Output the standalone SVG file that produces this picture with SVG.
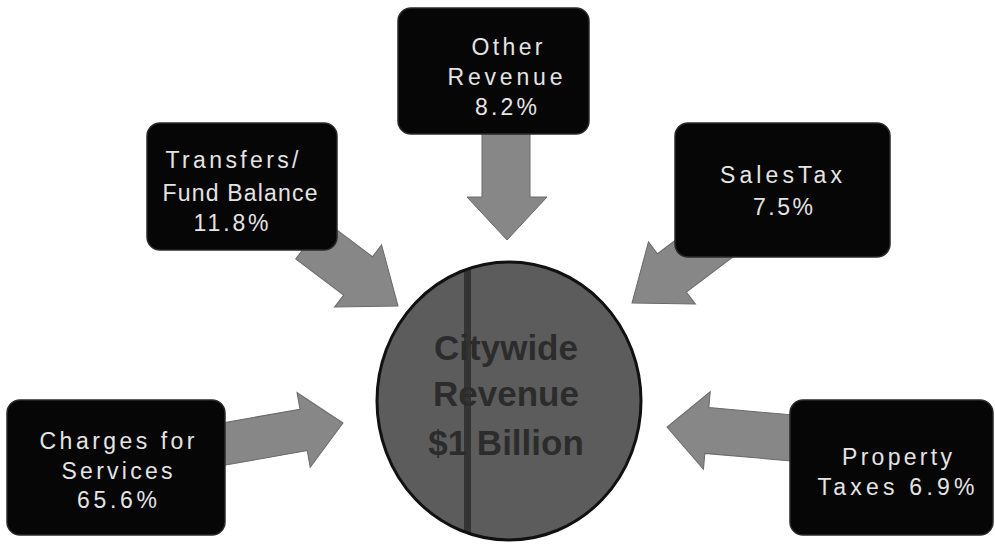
<svg xmlns="http://www.w3.org/2000/svg" width="995" height="544" viewBox="0 0 995 544">
  <style>
    .box { fill: #060606; stroke: #2a2a2a; stroke-width: 1.5; }
    .lbl { font-family: "Liberation Sans", Arial, sans-serif; font-size: 23px; fill: #e4e4e4; text-anchor: middle; }
    .ctr { font-family: "Liberation Sans", Arial, sans-serif; font-size: 35px; font-weight: bold; fill: #2c2c2c; text-anchor: middle; }
    .arrow { fill: #878787; stroke: #6a6a6a; stroke-width: 1; }
  </style>
  <defs>
    <clipPath id="circleClip">
      <ellipse cx="509" cy="401" rx="132" ry="139"/>
    </clipPath>
  </defs>
  <rect width="995" height="544" fill="#ffffff"/>

  <g id="connectors">
    <!-- Other Revenue (down) -->
    <polygon class="arrow" points="482,128 530,128 530,197 547,197 507,240 467,197 482,197"/>
    <!-- Transfers (down-right) -->
    <g transform="translate(398,306) rotate(37)">
      <polygon class="arrow" points="0,0 -50,-39 -50,-24 -110,-24 -110,24 -50,24 -50,39"/>
    </g>
    <!-- Sales Tax (down-left) -->
    <g transform="translate(632,303) rotate(143)">
      <polygon class="arrow" points="0,0 -50,-39 -50,-24 -110,-24 -110,24 -50,24 -50,39"/>
    </g>
    <!-- Charges (right) -->
    <g transform="translate(343,423) rotate(-10)">
      <polygon class="arrow" points="0,0 -40,-38 -40,-21 -130,-21 -130,21 -40,21 -40,38"/>
    </g>
    <!-- Property (left) -->
    <g transform="translate(667,427) rotate(185)">
      <polygon class="arrow" points="0,0 -40,-39 -40,-23 -135,-23 -135,23 -40,23 -40,39"/>
    </g>
  </g>

  <g id="center">
    <ellipse cx="509" cy="401" rx="132" ry="139" fill="#5c5c5c"/>
    <rect x="464" y="255" width="7" height="290" fill="#343434" clip-path="url(#circleClip)"/>
    <ellipse cx="509" cy="401" rx="132" ry="139" fill="none" stroke="#111111" stroke-width="3"/>
    <text class="ctr" x="506" y="360">Citywide</text>
    <text class="ctr" x="506" y="406">Revenue</text>
    <text class="ctr" x="506" y="455">$1 Billion</text>
  </g>

  <g id="other-revenue">
    <rect class="box" x="398" y="8" width="191" height="126" rx="13"/>
    <text class="lbl" x="507" y="55" textLength="71" lengthAdjust="spacing">Other</text>
    <text class="lbl" x="505" y="85" textLength="115" lengthAdjust="spacing">Revenue</text>
    <text class="lbl" x="506" y="115" textLength="62" lengthAdjust="spacing">8.2%</text>
  </g>

  <g id="transfers">
    <rect class="box" x="147" y="123" width="190" height="127" rx="13"/>
    <text class="lbl" x="232" y="168" textLength="133" lengthAdjust="spacing">Transfers/</text>
    <text class="lbl" x="240" y="201" textLength="155" lengthAdjust="spacing">Fund Balance</text>
    <text class="lbl" x="231" y="231" textLength="75" lengthAdjust="spacing">11.8%</text>
  </g>

  <g id="sales-tax">
    <rect class="box" x="675" y="123" width="215" height="134" rx="13"/>
    <text class="lbl" x="781" y="183" textLength="122" lengthAdjust="spacing">SalesTax</text>
    <text class="lbl" x="783" y="215" textLength="60" lengthAdjust="spacing">7.5%</text>
  </g>

  <g id="charges">
    <rect class="box" x="7" y="400" width="218" height="135" rx="13"/>
    <text class="lbl" x="117" y="449" textLength="155" lengthAdjust="spacing">Charges for</text>
    <text class="lbl" x="117" y="479" textLength="111" lengthAdjust="spacing">Services</text>
    <text class="lbl" x="117" y="508" textLength="80" lengthAdjust="spacing">65.6%</text>
  </g>

  <g id="property-taxes">
    <rect class="box" x="790" y="400" width="203" height="135" rx="13"/>
    <text class="lbl" x="897" y="465" textLength="110" lengthAdjust="spacing">Property</text>
    <text class="lbl" x="896" y="495" textLength="157" lengthAdjust="spacing">Taxes 6.9%</text>
  </g>
</svg>
